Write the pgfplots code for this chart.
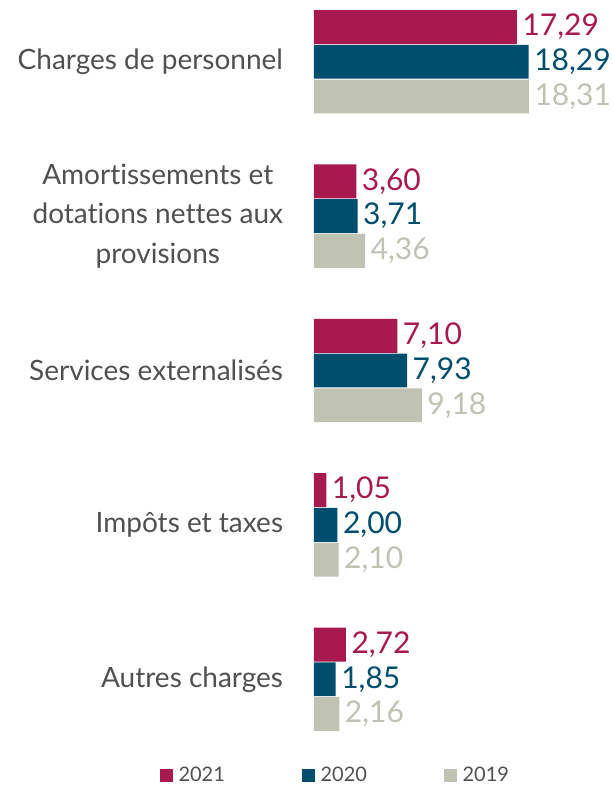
\documentclass[border=0pt]{standalone}
\usepackage{fontspec}
\setmainfont{Lato}[Ligatures={NoCommon}]
\usepackage{pgfplots}
\pgfplotsset{compat=1.18}
\definecolor{c21}{RGB}{168,25,80}
\definecolor{c20}{RGB}{0,78,110}
\definecolor{c19}{RGB}{192,194,180}
\definecolor{txt}{RGB}{80,80,80}
\begin{document}
\begin{tikzpicture}
\begin{axis}[
 name=ax,
 scale only axis,
 width=213.75pt, height=555.75pt,
 xmin=0, xmax=24.28,
 ymin=-0.4, ymax=4.4, y dir=reverse,
 xbar, bar width=0.22,
 hide x axis,
 axis y line*=left, y axis line style={draw=none},
 major tick length=0pt,
 ytick={0,1,2,3,4},
 yticklabels={Charges de personnel, {Amortissements et\\dotations nettes aux\\provisions}, Services externalisés, Impôts et taxes, Autres charges},
 yticklabel style={align=center, font=\fontsize{21}{29.5}\selectfont, text=txt, inner sep=0pt, xshift=-23pt},
 nodes near coords={\pgfmathprintnumber[use comma,fixed,fixed zerofill,precision=2,assume math mode=true]{\pgfplotspointmeta}},
 nodes near coords style={font=\fontsize{22.5}{24}\selectfont, inner sep=0pt, xshift=4pt},
 legend columns=3,
 legend style={draw=none, at={(axis description cs:0.077,-0.046)}, anchor=center, font=\fontsize{15}{17}\selectfont, text=txt, inner sep=0pt,
   /tikz/every even column/.append style={column sep=56pt},
   /tikz/every odd column/.append style={column sep=2pt}},
 legend image code/.code={\fill[#1] (0pt,-4.9pt) rectangle (9.75pt,4.9pt);},
]
\addplot[fill=c21, draw=none, bar shift=-0.225, nodes near coords style={text=c21}] coordinates {(17.29,0) (3.60,1) (7.10,2) (1.05,3) (2.72,4)};
\addplot[fill=c20, draw=none, bar shift=0, nodes near coords style={text=c20}] coordinates {(18.29,0) (3.71,1) (7.93,2) (2.00,3) (1.85,4)};
\addplot[fill=c19, draw=none, bar shift=0.225, nodes near coords style={text=c19}] coordinates {(18.31,0) (4.36,1) (9.18,2) (2.10,3) (2.16,4)};
\legend{2021,2020,2019}
\end{axis}
\pgfresetboundingbox
\path (ax.south west) ++(-235.5pt,-33.75pt) rectangle ++(459.75pt,589.5pt);
\end{tikzpicture}
\end{document}
